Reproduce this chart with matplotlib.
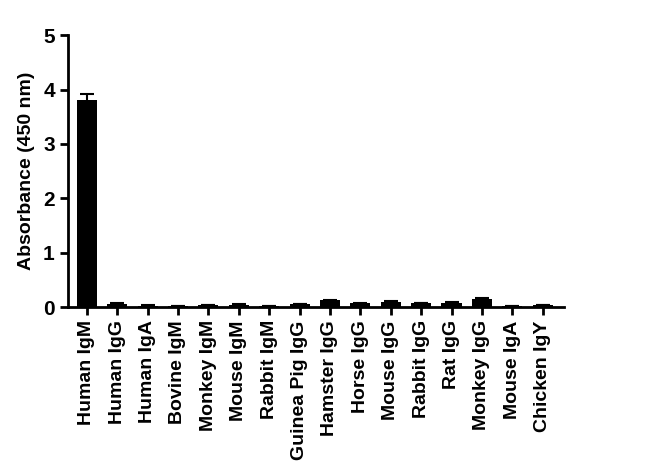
import matplotlib
matplotlib.use("Agg")
import matplotlib.pyplot as plt
import numpy as np

antibodies = ["Human IgM", "Human IgG", "Human IgA", "Bovine IgM", "Monkey IgM",
              "Mouse IgM", "Rabbit IgM", "Guinea Pig IgG", "Hamster IgG", "Horse IgG",
              "Mouse IgG", "Rabbit IgG", "Rat IgG", "Monkey IgG", "Mouse IgA",
              "Chicken IgY"]
absorbance = [3.80, 0.06, 0.025, 0.012, 0.04, 0.045, 0.015, 0.055, 0.12, 0.065,
              0.10, 0.07, 0.08, 0.155, 0.012, 0.035]
errors = [0.11, 0.005, 0.003, 0.002, 0.004, 0.004, 0.002, 0.005, 0.01, 0.005,
          0.008, 0.005, 0.006, 0.01, 0.002, 0.004]

plt.rcParams['font.family'] = ['Liberation Sans', 'DejaVu Sans']
plt.rcParams['font.weight'] = 'bold'

fig = plt.figure(figsize=(6.5, 4.76), dpi=100)
ax = fig.add_axes([0.1046, 0.355, 0.763, 0.571])

x = np.arange(len(antibodies))
ax.bar(x, absorbance, width=0.66, color='black',
       yerr=errors, error_kw=dict(ecolor='black', elinewidth=1.5, capsize=5, capthick=1.5))

ax.set_xlim(-0.62, len(antibodies) - 0.3)
ax.set_ylim(0, 5)
ax.set_yticks([0, 1, 2, 3, 4, 5])
ax.set_xticks(x)
ax.set_xticklabels(antibodies, rotation=90, fontsize=14, fontweight='bold')
ax.set_ylabel('Absorbance (450 nm)', fontsize=14, fontweight='bold', labelpad=6)
ax.tick_params(axis='y', labelsize=15, width=2, length=6)
ax.tick_params(axis='x', width=2, length=6)
for lbl in ax.get_yticklabels():
    lbl.set_fontweight('bold')

for side in ['top', 'right']:
    ax.spines[side].set_visible(False)
for side in ['left', 'bottom']:
    ax.spines[side].set_linewidth(2)

fig.savefig('out.png', dpi=100)
